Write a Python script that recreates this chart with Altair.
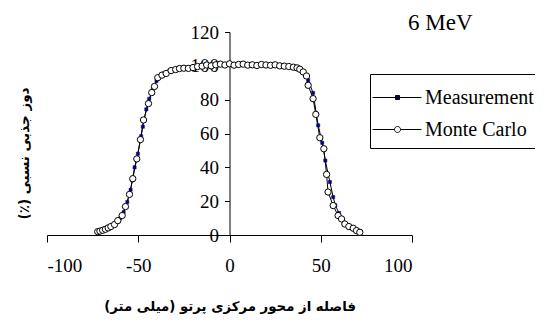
import altair as alt
import pandas as pd

# Monte Carlo profile (mm, relative dose %)
mc_x = [-72.2, -71.0, -69.5, -68.0, -66.5, -65.0, -63.0, -61.2, -58.8, -57.0,
        -54.8, -53.0, -50.8, -48.8, -47.1, -44.4, -42.6, -41.1, -39.3, -37.0,
        -34.7, -32.0, -29.5, -27.4, -25.0, -22.5, -20.0, -17.5, -15.0, -12.5,
        -10.0, -7.5, -5.0, -2.5, 0.0, 2.5, 5.0, 7.5, 10.0, 12.5,
        15.0, 17.5, 20.0, 22.5, 25.0, 27.5, 30.0, 32.5, 35.0, 37.0,
        38.5, 40.4, 42.2, 43.1, 45.8, 47.3, 49.5, 51.7, 53.2, 54.0,
        56.8, 59.5, 61.4, 63.2, 65.4, 67.8, 69.6, 71.4]
mc_y = [2.0, 2.3, 2.8, 3.4, 4.2, 5.0, 6.2, 8.5, 11.5, 16.8,
        24.0, 33.3, 45.0, 56.4, 68.0, 77.7, 84.2, 87.8, 93.0, 94.5,
        95.5, 97.2, 97.8, 98.4, 98.6, 98.5, 99.0, 99.6, 99.8, 100.5,
        100.0, 100.6, 101.0, 100.5, 101.2, 100.4, 100.8, 101.0, 100.4, 100.6,
        100.2, 100.8, 100.5, 100.3, 100.6, 100.0, 99.8, 99.6, 99.2, 98.8,
        98.0, 96.4, 94.0, 88.5, 80.6, 71.3, 57.5, 51.0, 35.8, 25.4,
        17.4, 11.5, 9.5, 6.5, 5.0, 4.0, 2.6, 1.6]

# Measured profile
meas_x = [-72, -70, -68, -66, -64, -62, -60, -58, -56, -54.2,
          -53.3, -52, -50.2, -48.4, -47.5, -45.6, -44, -42, -40, -38,
          -36, -33, -30, -27, -24, -21, -18, -15, -12, -9,
          -6, -3, 0, 3, 6, 9, 12, 15, 18, 21,
          24, 27, 30, 33, 36, 38, 40, 41.5, 43.1, 45.8,
          48.6, 50.8, 52.5, 55, 56.8, 58, 60, 62, 64, 66,
          68, 70, 72]
meas_y = [2.0, 2.5, 3.2, 4.0, 5.5, 7.5, 9.8, 13.5, 19.5, 26.7,
          32.3, 40.0, 48.0, 58.4, 64.0, 74.3, 80.5, 86.5, 91.0, 93.8,
          95.5, 97.0, 97.8, 98.3, 98.7, 99.0, 99.4, 99.8, 100.2, 100.4,
          100.6, 100.8, 101.0, 100.8, 100.6, 100.5, 100.4, 100.4, 100.5, 100.4,
          100.3, 100.2, 99.9, 99.6, 99.0, 98.0, 96.0, 94.2, 91.5, 84.0,
          64.8, 54.5, 44.0, 31.3, 22.4, 17.5, 13.0, 9.0, 6.5, 4.8,
          3.6, 2.8, 2.0]

series_names = ["Measurement", "Monte Carlo"]
x_ticks = [-100, -50, 0, 50, 100]
y_ticks = [0, 20, 40, 60, 80, 100, 120]

df_meas = pd.DataFrame({"x": meas_x, "y": meas_y, "series": series_names[0]})
df_mc = pd.DataFrame({"x": mc_x, "y": mc_y, "series": series_names[1]})
df_all = pd.concat([df_meas, df_mc], ignore_index=True)

serif = "Liberation Serif"
persian = "DejaVu Sans"
RLM = "\u200f"

x_enc = alt.X(
    "x:Q",
    scale=alt.Scale(domain=[-100, 100], nice=False),
    axis=alt.Axis(
        values=x_ticks, grid=False, tickSize=7, tickColor="black", domainColor="black",
        labelFont=serif, labelFontSize=19, labelColor="black", labelPadding=14,
        labelExpr="datum.value + ''",
        title=RLM + "فاصله از محور مرکزی پرتو (میلی متر)" + RLM,
        titleFont=persian, titleFontSize=13.3,
        titleFontWeight="bold", titleColor="black", titlePadding=24,
    ),
)
y_enc = alt.Y(
    "y:Q",
    scale=alt.Scale(domain=[0, 120], nice=False),
    axis=alt.Axis(
        values=y_ticks, grid=False, offset=-182.5, tickSize=5, tickColor="black",
        domainColor="black", labelFont=serif, labelFontSize=19, labelColor="black",
        labelPadding=6, labelOverlap=False, labelExpr="datum.value + ''",
        title=RLM + "دوز جذبی نسبی (٪)" + RLM, titleFont=persian, titleFontSize=13.5,
        titleFontWeight="bold", titleColor="black", titleX=-205, titleY=121,
        titleAngle=270, titleAlign="center", titleBaseline="middle",
    ),
)

# legend symbols: line with marker (units of half the symbol width, 15 px)
path_meas = "M-1.4,0H1.867M0.133,-0.133H0.4V0.133H0.133Z"
path_mc = ("M-1.4,0H0.067M0.467,0H1.867M0.467,0"
           "A0.2,0.2 0 1 1 0.067,0A0.2,0.2 0 1 1 0.467,0Z")

legend = alt.Legend(
    title=None, orient="none", legendX=323, legendY=42, padding=8,
    strokeColor="black", fillColor="white", cornerRadius=0,
    labelFont=serif, labelFontSize=20, labelColor="black", labelOffset=16,
    rowPadding=6, symbolSize=900, symbolStrokeWidth=1, symbolStrokeColor="black",
)

lines = alt.Chart(df_all).mark_line(color="black", strokeWidth=1).encode(
    detail="series:N"
)

pts_meas = alt.Chart(df_meas).mark_point(
    shape="square", size=10, filled=True, fill="#000080", stroke="#000080",
    strokeWidth=0.5, opacity=1
)

pts_mc = alt.Chart(df_mc).mark_point(
    shape="circle", size=40, fill="white", stroke="black", strokeWidth=1, opacity=1
)

legend_layer = alt.Chart(df_all).transform_filter("false").mark_point(
    size=900, strokeWidth=1, opacity=1
).encode(
    shape=alt.Shape("series:N", scale=alt.Scale(domain=series_names, range=[path_meas, path_mc]),
                    legend=legend),
    fill=alt.Fill("series:N", scale=alt.Scale(domain=series_names, range=["#000080", "white"]),
                  legend=legend),
    stroke=alt.Stroke("series:N", scale=alt.Scale(domain=series_names, range=["black", "black"]),
                      legend=legend),
)

chart = alt.layer(lines, pts_meas, pts_mc, legend_layer).encode(
    x=x_enc, y=y_enc
).properties(
    width=365, height=203,
    background="white",
    autosize=alt.AutoSizeParams(type="none"),
    padding={"left": 39, "top": 24, "right": 123, "bottom": 84},
    title=alt.TitleParams(
        "6 MeV", anchor="start", frame="group", dx=361, dy=36, offset=6,
        font=serif, fontSize=23, fontWeight="normal", color="black",
        baseline="alphabetic",
    ),
).configure_view(stroke=None)

chart.save("out.html", embed_options={"renderer": "svg", "actions": False})
